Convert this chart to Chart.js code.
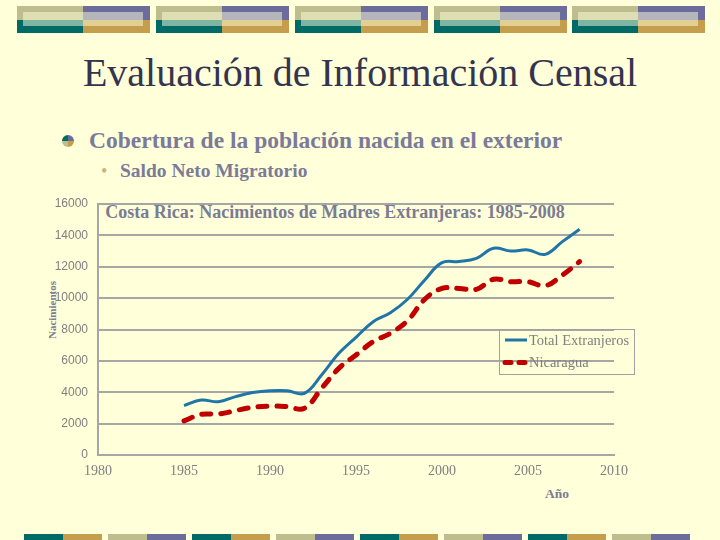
<!DOCTYPE html>
<html>
<head>
<meta charset="utf-8">
<script src="https://cdn.jsdelivr.net/npm/chart.js@4/dist/chart.umd.min.js"></script>
<style>
  body { margin: 0; background: #FFFFDA; }
  #slide { position: relative; width: 720px; height: 540px; overflow: hidden; background: #FFFFDA; }
  .abs { position: absolute; white-space: nowrap; }
  .serif { font-family: "Liberation Serif", "Times New Roman", serif; }
  #chart { position: absolute; left: 0; top: 0; }
</style>
</head>
<body>
<div id="slide">
  <div class="abs serif" style="left:0;width:720px;top:50px;height:46px;line-height:46px;text-align:center;font-size:40px;color:#34344f;">Evaluación de Información Censal</div>
  <div class="abs" style="left:62px;top:135px;width:12px;height:12px;border-radius:50%;background:conic-gradient(#6b6b9c 0 25%, #c49e4c 25% 50%, #bdbd8e 50% 75%, #006b66 75% 100%);"></div>
  <div class="abs serif" style="left:89px;top:126px;line-height:28px;font-size:23.5px;font-weight:bold;color:#7b7b99;">Cobertura de la población nacida en el exterior</div>
  <div class="abs serif" style="left:101px;top:159px;line-height:24px;font-size:18px;color:#c9b47a;">•</div>
  <div class="abs serif" style="left:120px;top:159px;line-height:24px;font-size:19.5px;font-weight:bold;color:#7b7b99;">Saldo Neto Migratorio</div>
  <div class="abs serif" style="left:85px;width:500px;top:201px;line-height:22px;text-align:center;font-size:18px;font-weight:bold;color:#7b7b92;">Costa Rica: Nacimientos de Madres Extranjeras: 1985-2008</div>
  <div class="abs serif" style="left:22px;width:60px;top:303px;line-height:14px;text-align:center;font-size:11px;font-weight:bold;color:#7b7b92;transform:rotate(-90deg);">Nacimientos</div>
  <div class="abs serif" style="left:527px;width:60px;top:486px;line-height:16px;text-align:center;font-size:13.5px;font-weight:bold;color:#7b7b92;">Año</div>
  <canvas id="chart" width="720" height="540"></canvas>
</div>
<script>
const years = [1985, 1986, 1987, 1988, 1989, 1990, 1991, 1992, 1993, 1994, 1995, 1996,
  1997, 1998, 1999, 2000, 2001, 2002, 2003, 2004, 2005, 2006, 2007, 2008];
const totalExtranjeros = [3150, 3500, 3400, 3720, 3980, 4100, 4100, 3930, 5100, 6480, 7500, 8500,
  9070, 9930, 11160, 12260, 12330, 12540, 13180, 13000, 13070, 12790, 13600, 14390];
const nicaragua = [2170, 2590, 2610, 2830, 3040, 3120, 3080, 2980, 4250, 5520, 6370, 7230,
  7760, 8570, 9930, 10620, 10620, 10560, 11200, 11050, 11050, 10790, 11470, 12330];
const seriesNames = ["Total Extranjeros", "Nicaragua"];
const xTicks = [1980, 1985, 1990, 1995, 2000, 2005, 2010];
const yTicks = [0, 2000, 4000, 6000, 8000, 10000, 12000, 14000, 16000];

// slide decoration bars
const slide = document.getElementById("slide");
function box(l, t, w, h, bg) {
  const d = document.createElement("div");
  d.style.cssText = "position:absolute;left:" + l + "px;top:" + t + "px;width:" + w + "px;height:" + h + "px;background:" + bg + ";";
  slide.insertBefore(d, slide.firstChild);
}
[17, 156, 295, 434, 572].forEach(function (x) {
  box(x + 6, 12, 120, 14, "rgba(255,255,220,0.5)");
  box(x, 6, 66, 14, "#bdbd8e");
  box(x + 66, 6, 67, 14, "#6b6b9c");
  box(x, 20, 66, 13, "#006b66");
  box(x + 66, 20, 67, 13, "#c49e4c");
});
for (let i = 0; i < 8; i++) {
  const x = 24 + 84 * i;
  box(x, 534, 39, 6, i % 2 ? "#bdbd8e" : "#006b66");
  box(x + 39, 534, 39, 6, i % 2 ? "#6b6b9c" : "#c49e4c");
}

function points(vals) {
  return years.map(function (y, i) { return { x: y, y: vals[i] }; });
}

const legendBox = {
  id: "legendBox",
  afterDraw(chart) {
    const ctx = chart.ctx;
    ctx.save();
    ctx.strokeStyle = "#a0a0a0";
    ctx.lineWidth = 1;
    ctx.strokeRect(499.5, 329.5, 135, 45);
    chart.data.datasets.forEach(function (ds, i) {
      const y = 340 + i * 22.5;
      ctx.beginPath();
      ctx.strokeStyle = ds.borderColor;
      ctx.lineWidth = ds.borderWidth;
      ctx.lineCap = ds.borderDash ? "round" : "butt";
      ctx.setLineDash(ds.borderDash ? [6, 8] : []);
      ctx.moveTo(505, y);
      ctx.lineTo(527, y);
      ctx.stroke();
      ctx.setLineDash([]);
      ctx.fillStyle = "#808080";
      ctx.font = "14.5px 'Liberation Serif'";
      ctx.textBaseline = "middle";
      ctx.fillText(ds.label, 529, y + 1);
    });
    ctx.restore();
  }
};

new Chart(document.getElementById("chart"), {
  type: "line",
  data: {
    datasets: [
      {
        label: seriesNames[0],
        data: points(totalExtranjeros),
        borderColor: "#1f75a8",
        borderWidth: 3,
        pointRadius: 0,
        tension: 0.4
      },
      {
        label: seriesNames[1],
        data: points(nicaragua),
        borderColor: "#c00000",
        borderWidth: 5,
        borderDash: [9, 10],
        borderCapStyle: "round",
        pointRadius: 0,
        tension: 0.4
      }
    ]
  },
  options: {
    responsive: false,
    animation: false,
    devicePixelRatio: 1,
    layout: { padding: { left: 40, top: 204, right: 106, bottom: 55 } },
    plugins: { legend: { display: false }, tooltip: { enabled: false } },
    scales: {
      x: {
        type: "linear",
        min: xTicks[0],
        max: xTicks[xTicks.length - 1],
        afterFit: function (s) { s.height = 30; },
        afterBuildTicks: function (s) { s.ticks = xTicks.map(function (v) { return { value: v }; }); },
        grid: { display: false, drawTicks: false },
        border: { display: true, color: "#a6a6a6", width: 2 },
        ticks: {
          padding: 8,
          color: "#808080",
          font: { family: "'Liberation Serif'", size: 14 },
          callback: function (v) { return String(v); }
        }
      },
      y: {
        min: yTicks[0],
        max: yTicks[yTicks.length - 1],
        afterFit: function (s) { s.width = 58; },
        afterBuildTicks: function (s) { s.ticks = yTicks.map(function (v) { return { value: v }; }); },
        grid: { color: "#a6a6a6", lineWidth: 2, drawTicks: false },
        border: { display: true, color: "#a6a6a6", width: 2 },
        ticks: {
          padding: 10,
          color: "#808080",
          font: { family: "'Liberation Sans'", size: 12 },
          callback: function (v) { return String(v); }
        }
      }
    }
  },
  plugins: [legendBox]
});
</script>
</body>
</html>
